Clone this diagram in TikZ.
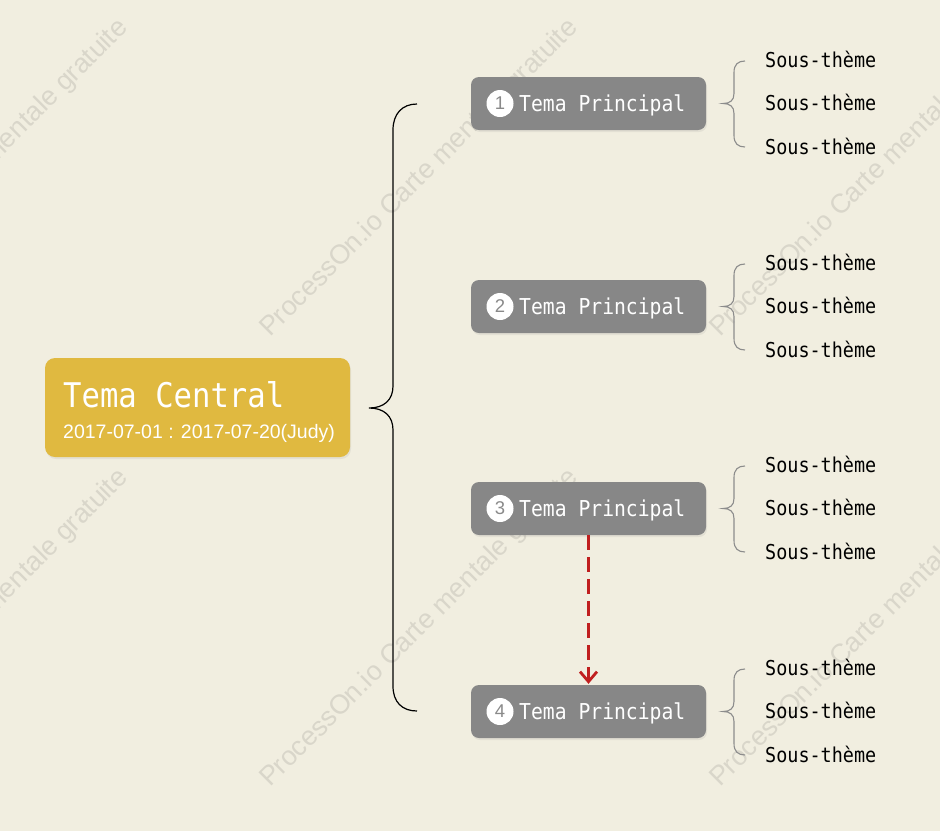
\documentclass[tikz,border=0pt]{standalone}
\usepackage{fontspec}
\setmainfont{Liberation Sans}
\newfontfamily\monof[FakeStretch=0.9]{DejaVu Sans Mono}
\usetikzlibrary{arrows.meta,shadows}
\definecolor{bg}{HTML}{F1EEE0}
\definecolor{gold}{HTML}{E0B940}
\definecolor{topicgray}{HTML}{878787}
\definecolor{numgray}{HTML}{8A8A8A}
\definecolor{bracegray}{HTML}{8C8C8C}
\definecolor{arrowred}{HTML}{C01F1F}
\definecolor{wmgray}{HTML}{D9D6CA}
\tikzset{
  centralbox/.style={fill=gold, rounded corners=10pt, minimum width=305pt, minimum height=99pt, inner sep=0pt,
    drop shadow={opacity=0.12, shadow xshift=1pt, shadow yshift=-2pt}},
  topicbox/.style={fill=topicgray, rounded corners=8pt, minimum width=235pt, minimum height=53pt, inner sep=0pt,
    drop shadow={opacity=0.12, shadow xshift=1pt, shadow yshift=-2pt}},
  numcircle/.style={circle, fill=white, minimum size=27pt, inner sep=0pt, text=numgray,
    font=\fontsize{18.5}{18.5}\selectfont},
  topictext/.style={anchor=base west, inner sep=0pt, text=white, font=\monof\fontsize{21.9}{21.9}\selectfont},
  subtext/.style={anchor=base west, inner sep=0pt, text=black, font=\monof\fontsize{20.5}{20.5}\selectfont},
  bigbrace/.style={draw=black, line width=1.2pt},
  smallbrace/.style={draw=bracegray, line width=1.1pt},
  linkarrow/.style={draw=arrowred, line width=2.8pt, dash pattern=on 15pt off 7pt,
    -{Straight Barb[length=10pt,width=17pt,line width=2.8pt]}},
  watermark/.style={anchor=base west, inner sep=0pt, text=wmgray, rotate=45,
    font=\fontsize{27}{27}\selectfont},
}
\begin{document}
\begin{tikzpicture}[x=1pt,y=-1pt]
\useasboundingbox (0,0) rectangle (940,831);
\fill[bg] (0,0) rectangle (940,831);
% watermarks
\begin{scope}
\clip (0,0) rectangle (940,831);
\foreach \wx/\wn in {-180/a,270/b,720/c} {
  \foreach \wy/\wm in {338/1,788/2} {
    \node[watermark] (wm\wn\wm) at (\wx,\wy) {ProcessOn.io Carte mentale gratuite};
  }
}
\end{scope}
% central topic
\node[centralbox] (central) at (197.5,407.5) {};
\node[anchor=base west, inner sep=0pt, text=white, font=\monof\fontsize{34}{34}\selectfont] (centraltitle) at (63,407) {Tema Central};
\node[anchor=base west, inner sep=0pt, text=white, font=\fontsize{19.5}{19.5}\selectfont] (centraldate) at (63,438) {2017-07-01 : 2017-07-20(Judy)};
% main topics
\foreach \i/\c in {1/103.5,2/306.5,3/508.5,4/711.5} {
  \node[topicbox] (t\i) at (588.5,\c) {};
  \node[numcircle] (n\i) at (500,\c) {\i};
  \node[topictext] (tt\i) at (519,\c+7.5) {Tema Principal};
  \coordinate (bt\i) at (745,\c-42.5);
  \coordinate (bm\i) at (723,\c);
  \coordinate (bb\i) at (745,\c+43.5);
  \draw[smallbrace] (bt\i) .. controls (738,\c-42.5) and (734,\c-39) .. (734,\c-31)
     -- (734,\c-10) .. controls (734,\c-3) and (730,\c) .. (bm\i)
     .. controls (730,\c) and (734,\c+3) .. (734,\c+10)
     -- (734,\c+32) .. controls (734,\c+40) and (738,\c+43.5) .. (bb\i);
  \node[subtext] (s\i a) at (765,\c-43+6.5) {Sous-thème};
  \node[subtext] (s\i b) at (765,\c+0.5+6.5) {Sous-thème};
  \node[subtext] (s\i c) at (765,\c+44+6.5) {Sous-thème};
}
% big brace
\coordinate (btop) at (417,104);
\coordinate (btip) at (369,408);
\coordinate (bbot) at (417,711);
\draw[bigbrace] (btop) .. controls (402,104) and (393,114) .. (393,130)
   -- (393,386) .. controls (393,400) and (384,408) .. (btip)
   .. controls (384,408) and (393,416) .. (393,430)
   -- (393,686) .. controls (393,702) and (402,711) .. (bbot);
% relation arrow
\draw[linkarrow] (t3.south) -- ([yshift=1pt]t4.north);
\end{tikzpicture}
\end{document}
